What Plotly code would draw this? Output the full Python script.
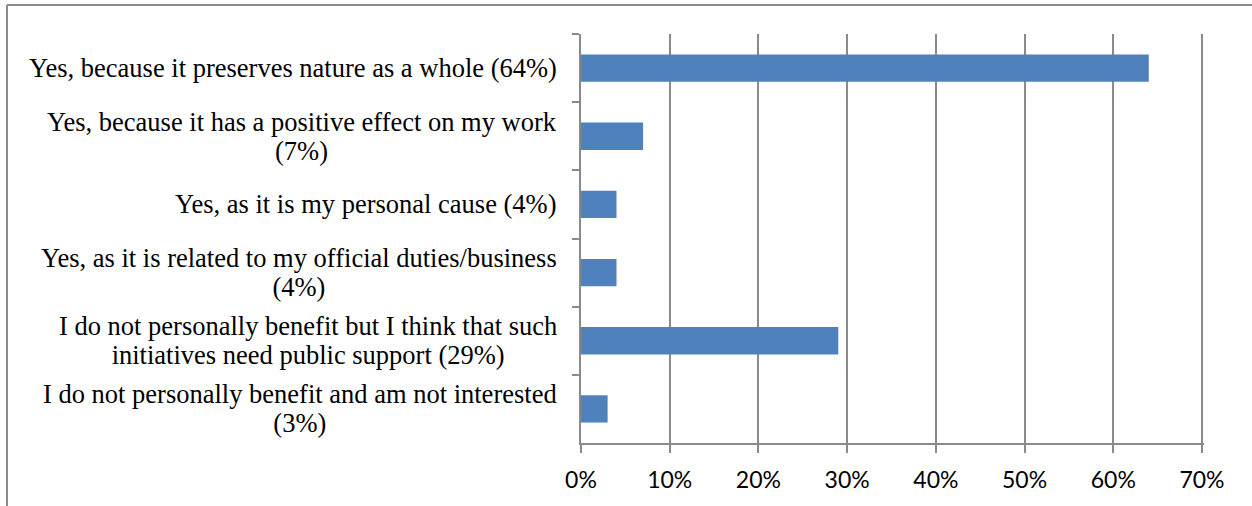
import plotly.graph_objects as go

# Survey answers (top to bottom) and their shares
answers = [
    "Yes, because it preserves nature as a whole (64%)",
    "Yes, because it has a positive effect on my work<br>(7%)",
    "Yes, as it is my personal cause (4%)",
    "Yes, as it is related to my official duties/business<br>(4%)",
    "I do not personally benefit but I think that such<br>initiatives need public support (29%)",
    "I do not personally benefit and am not interested<br>(3%)",
]
shares = [0.64, 0.07, 0.04, 0.04, 0.29, 0.03]

x_tick_values = [0.0, 0.1, 0.2, 0.3, 0.4, 0.5, 0.6, 0.7]

BAR_COLOR = "#4F81BD"
LINE_COLOR = "#8A8A8A"
LABEL_PX = 26.5    # visible size of the category labels
LINE_PITCH = 29    # distance between wrapped label lines

# Plot area: 621 px for 0..70 %, plus 2 px slack so the 70 % gridline is kept
MARGIN_L, MARGIN_R = 581, 48
PLOT_W = 1252 - MARGIN_L - MARGIN_R
X_MAX = 0.7 * PLOT_W / 621

fig = go.Figure(
    go.Bar(
        x=shares,
        y=answers,
        orientation="h",
        marker=dict(color=BAR_COLOR, line=dict(width=0)),
        hoverinfo="skip",
    )
)

# Category labels: right-aligned block, wrapped lines centred within it
for answer in answers:
    lines = answer.split("<br>")
    text = "<br>".join(
        f"<span style='font-size:{LABEL_PX}px'>{ln}</span>" for ln in lines
    )
    fig.add_annotation(
        x=0,
        xref="paper",
        y=answer,
        yref="y",
        xanchor="right",
        yanchor="middle",
        xshift=-22,
        align="center",
        showarrow=False,
        text=text,
        font=dict(family="Liberation Serif, Times New Roman, serif",
                  size=LINE_PITCH / 1.3, color="#000000"),
    )

# Chart-area frame (left and top edges)
frame_x = (7 - MARGIN_L) / PLOT_W
frame_y = (443 - 5) / 409
fig.add_shape(
    type="line", xref="paper", yref="paper",
    x0=frame_x, x1=1.2, y0=frame_y, y1=frame_y,
    line=dict(color=LINE_COLOR, width=2),
)
fig.add_shape(
    type="line", xref="paper", yref="paper",
    x0=frame_x, x1=frame_x, y0=-0.3, y1=frame_y,
    line=dict(color=LINE_COLOR, width=2),
)

fig.update_layout(
    width=1252,
    height=506,
    margin=dict(l=MARGIN_L, r=MARGIN_R, t=34, b=63),
    paper_bgcolor="white",
    plot_bgcolor="white",
    bargap=0.6,
    showlegend=False,
    xaxis=dict(
        range=[0, X_MAX],
        tickvals=x_tick_values,
        tickformat=".0%",
        showgrid=True,
        gridcolor=LINE_COLOR,
        gridwidth=2,
        zeroline=False,
        showline=True,
        linecolor=LINE_COLOR,
        linewidth=2,
        ticks="outside",
        ticklen=8,
        tickwidth=2,
        tickcolor=LINE_COLOR,
        ticklabelstandoff=7,
        tickfont=dict(family="Lato", size=23, color="#000000"),
    ),
    yaxis=dict(
        autorange="reversed",
        showticklabels=False,
        showgrid=False,
        zeroline=False,
        showline=True,
        linecolor=LINE_COLOR,
        linewidth=2,
        ticks="outside",
        ticklen=7,
        tickwidth=2,
        tickson="boundaries",
        tickcolor=LINE_COLOR,
    ),
)

fig.write_html("out.html")
